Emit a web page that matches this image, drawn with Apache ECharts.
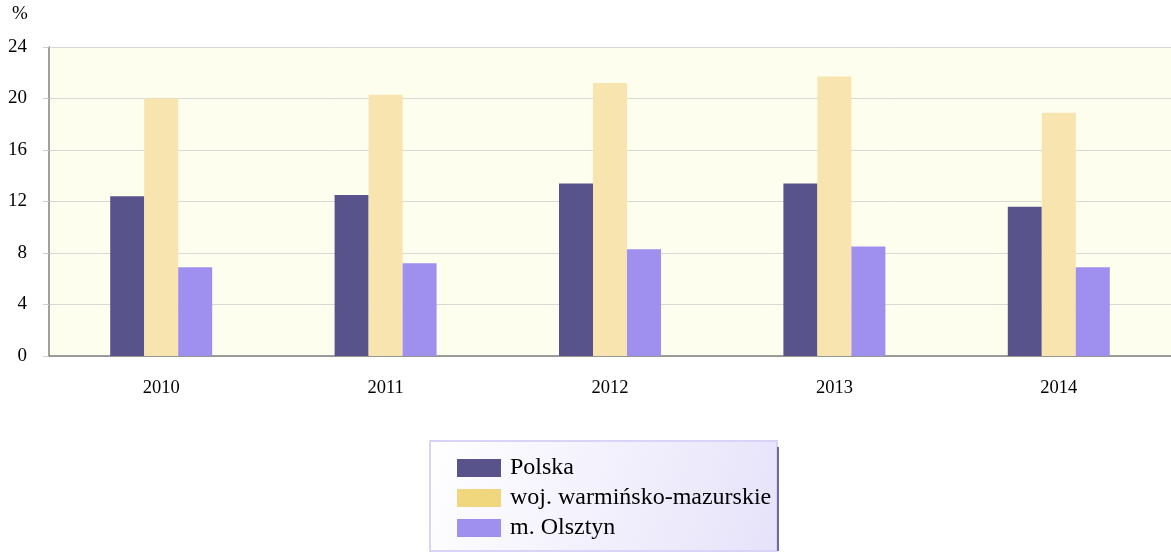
<!DOCTYPE html>
<html>
<head>
<meta charset="utf-8">
<script src="https://cdn.jsdelivr.net/npm/echarts@6/dist/echarts.min.js"></script>
<style>
  html, body { margin: 0; padding: 0; background: #fff; }
  #chart { width: 1171px; height: 552px; }
</style>
</head>
<body>
<div id="chart"></div>
<script>
const years = ['2010', '2011', '2012', '2013', '2014'];
const polska = [12.4, 12.5, 13.4, 13.4, 11.6];
const wojewodztwo = [20.0, 20.3, 21.2, 21.7, 18.9];
const olsztyn = [6.9, 7.2, 8.3, 8.5, 6.9];
const seriesNames = ['Polska', 'woj. warmińsko-mazurskie', 'm. Olsztyn'];

const barColors = ['#58538A', '#F7E4AE', '#9F8FEE'];
const legendColors = ['#58538A', '#F0D67C', '#9F8FEE'];
const serif = '"Liberation Serif", "DejaVu Serif", serif';

const option = {
    animation: false,
    grid: {
        left: 49,
        right: 0,
        top: 47,
        bottom: 196,
        show: true,
        backgroundColor: '#FEFEEF',
        borderWidth: 0
    },
    graphic: [
        {
            type: 'text',
            left: 12,
            top: 5,
            style: { text: '%', font: '19px ' + serif, fill: '#000' }
        },
        {
            type: 'rect',
            shape: { x: 430, y: 441, width: 347, height: 110 },
            style: {
                fill: new echarts.graphic.LinearGradient(0, 0, 1, 1, [
                    { offset: 0, color: '#FFFFFF' },
                    { offset: 1, color: '#E6E2FA' }
                ]),
                stroke: '#D8D4F8',
                lineWidth: 2
            },
            z: -1
        },
        {
            type: 'line',
            shape: { x1: 778, y1: 447, x2: 778, y2: 551 },
            style: { stroke: '#6F6AA2', lineWidth: 2 },
            z: 0
        }
    ],
    legend: {
        orient: 'vertical',
        left: 457,
        top: 456,
        itemWidth: 44,
        itemHeight: 18,
        itemGap: 6,
        padding: 0,
        icon: 'rect',
        data: seriesNames.map((n, i) => ({ name: n, itemStyle: { color: legendColors[i] } })),
        textStyle: { fontFamily: serif, fontSize: 24, lineHeight: 24, color: '#000', padding: [0, 0, 0, 4] }
    },
    xAxis: {
        type: 'category',
        data: years,
        axisLine: { lineStyle: { color: '#808080', width: 1.5 } },
        axisTick: { show: false },
        axisLabel: { fontFamily: serif, fontSize: 18.5, color: '#000', margin: 23 }
    },
    yAxis: {
        type: 'value',
        min: 0,
        max: 24,
        interval: 4,
        axisLine: { show: true, lineStyle: { color: '#808080', width: 1.5 } },
        axisTick: { show: true, length: 6, lineStyle: { color: '#D0D0D0' } },
        axisLabel: { fontFamily: serif, fontSize: 19, color: '#000', margin: 22 },
        splitLine: { lineStyle: { color: '#D8D8D4', width: 1 } }
    },
    series: [
        { name: seriesNames[0], type: 'bar', data: polska, barWidth: 34, barGap: '0%', itemStyle: { color: barColors[0] } },
        { name: seriesNames[1], type: 'bar', data: wojewodztwo, barWidth: 34, barGap: '0%', itemStyle: { color: barColors[1] } },
        { name: seriesNames[2], type: 'bar', data: olsztyn, barWidth: 34, barGap: '0%', itemStyle: { color: barColors[2] } }
    ]
};

const chart = echarts.init(document.getElementById('chart'));
chart.setOption(option);
</script>
</body>
</html>
